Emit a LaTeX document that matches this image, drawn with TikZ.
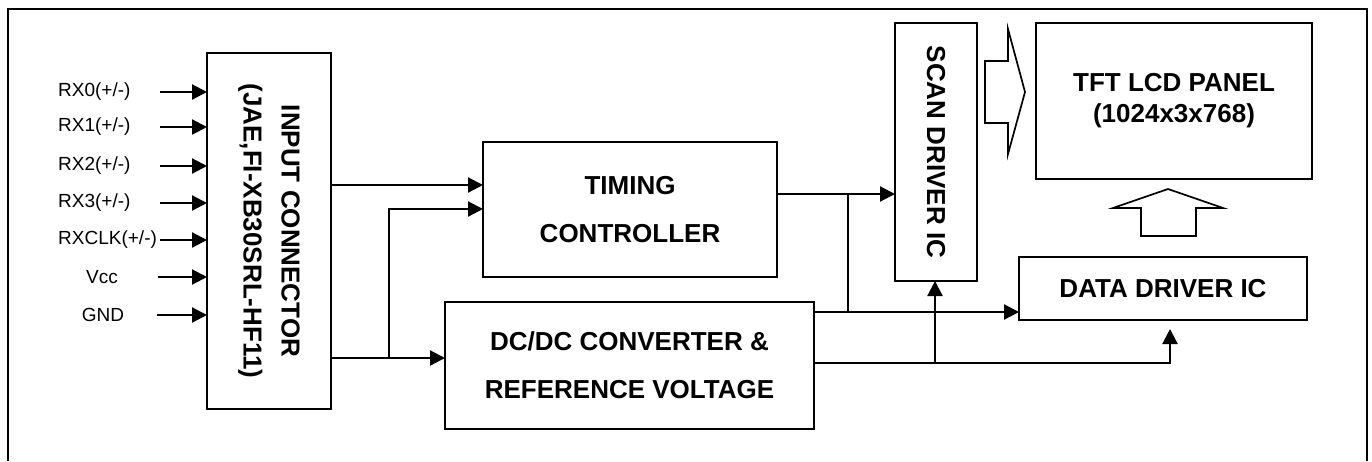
\documentclass[tikz,border=0pt]{standalone}
\usepackage{fontspec}
\setmainfont{Liberation Sans}
\usetikzlibrary{calc,positioning,arrows.meta}

\begin{document}
\begin{tikzpicture}[x=1pt,y=-1pt,
  blk/.style={draw,line width=2.3pt,inner sep=0pt,outer sep=0pt,align=center,font=\fontsize{26}{48}\selectfont\bfseries},
  lbl/.style={inner sep=0pt,align=center,font=\fontsize{26}{38}\selectfont\bfseries},
  sig/.style={inner sep=0pt,font=\fontsize{19}{22}\selectfont},
  wire/.style={line width=2.2pt},
  arr/.style={line width=2.2pt,-{Triangle[length=15pt,width=15pt]}},
  fat/.style={draw,line width=1.7pt,line join=miter}]
  \useasboundingbox (0,0) rectangle (1372,461);
  \draw[line width=1.5pt] (8,461) |- (1367,9) -- (1367,461);

  \node[blk,minimum width=124,minimum height=356,
    label={[lbl,rotate=-90]center:INPUT CONNECTOR\\(JAE,FI-XB30SRL-HF11)}] (conn) at (269,231) {};
  \node[blk,minimum width=294,minimum height=135] (tc) at (630,209.5) {TIMING\\CONTROLLER};
  \node[blk,minimum width=369,minimum height=127] (dcdc) at (629.5,365.5) {DC/DC CONVERTER \&\\REFERENCE VOLTAGE};
  \node[blk,minimum width=82,minimum height=258,
    label={[lbl,rotate=-90]center:SCAN DRIVER IC}] (scan) at (936,152) {};
  \node[blk,minimum width=276,minimum height=156,font=\fontsize{26}{31}\selectfont\bfseries] (tft) at (1174,101) {TFT LCD PANEL\\(1024x3x768)};
  \node[blk,minimum width=288,minimum height=63] (data) at (1163,288.5) {DATA DRIVER IC};

  \foreach \y/\t [count=\i] in {92/{RX0(+/-)},127/{RX1(+/-)},166/{RX2(+/-)},203/{RX3(+/-)},240/{RXCLK(+/-)}}{
    \node[sig,anchor=west] (rx\i) at (58,\y) {\t};
    \coordinate (rxs\i) at (160,\y);
    \draw[arr] (rxs\i) -- (conn.west |- rxs\i);
  }
  \node[sig] (vcc) at (102,277) {Vcc};
  \node[sig] (gnd) at (103,315) {GND};
  \coordinate (vccs) at (158,277);
  \coordinate (gnds) at (157,315);
  \draw[arr] (vccs) -- (conn.west |- vccs);
  \draw[arr] (gnds) -- (conn.west |- gnds);

  \coordinate (r1) at (389,185);
  \coordinate (r2) at (389,209);
  \coordinate (r3) at (389,358);
  \draw[arr] (conn.east |- r1) -- (tc.west |- r1);
  \draw[arr] (r3) |- (tc.west |- r2);
  \draw[arr] (conn.east |- r3) -- (dcdc.west |- r3);

  \coordinate (r4) at (848,194);
  \coordinate (r5) at (848,312);
  \draw[arr] (tc.east |- r4) -- (scan.west |- r4);
  \draw[wire] (r4) -- (r5);
  \draw[arr] (dcdc.east |- r5) -- (data.west |- r5);
  \coordinate (r6) at (1170,363);
  \coordinate (r7) at (1170,329);
  \coordinate (r8) at (935,363);
  \draw[arr] (dcdc.east |- r6) -| (r7);
  \draw[arr] (r8) -- (scan.south -| r8);

  \draw[fat] (985,61) -- (1008,61) -- (1008,29) -- (1025,92) -- (1008,154) -- (1008,123) -- (985,123) -- cycle;
  \draw[fat] (1141,236) -- (1141,208) -- (1113,208) -- (1168,189) -- (1223,208) -- (1196,208) -- (1196,236) -- cycle;
\end{tikzpicture}
\end{document}
